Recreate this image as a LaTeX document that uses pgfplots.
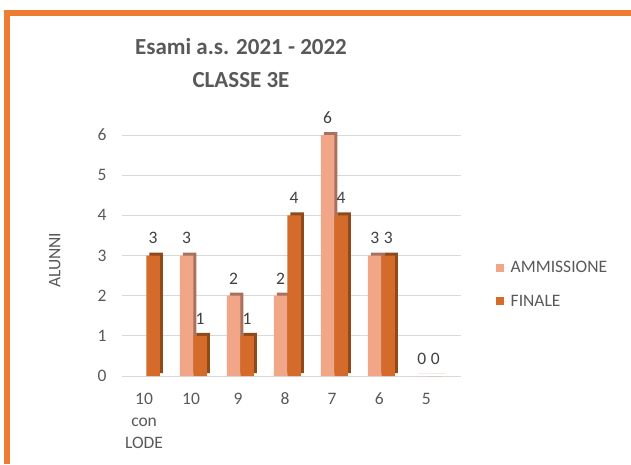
\documentclass[border=0pt]{standalone}
\usepackage{pgfplots}
\pgfplotsset{compat=1.18}
\usepackage{fontspec}
\setmainfont{Carlito}
\definecolor{amm}{HTML}{F1A688}
\definecolor{ammside}{HTML}{A8705D}
\definecolor{fin}{HTML}{D46B2A}
\definecolor{finside}{HTML}{8F4A1C}
\definecolor{frame}{HTML}{ED7D31}
\definecolor{txt}{HTML}{595959}
\definecolor{lbl}{HTML}{404040}
\definecolor{gridc}{HTML}{D9D9D9}

\begin{document}
\begin{tikzpicture}[x=1pt,y=1pt]
\useasboundingbox (0,0) rectangle (631,464);
\begin{axis}[
  at={(122pt,88pt)}, anchor=south west,
  scale only axis, width=339pt, height=241pt,
  ybar, bar width=13.5pt,
  xmin=-0.47, xmax=6.74, ymin=0, ymax=6,
  xtick={0,...,6},
  xticklabels={{10\\con\\LODE},10,9,8,7,6,5},
  ytick={0,...,6},
  axis line style={draw=none}, tick style={draw=none},
  ymajorgrids, grid style={gridc, line width=0.8pt},
  tick label style={font=\fontsize{17.5}{22}\selectfont, text=txt},
  xticklabel style={align=center, yshift=-9pt, anchor=north},
  yticklabel style={xshift=-12pt},
  /pgf/number format/assume math mode=true,
  clip=false,
  ylabel={ALUNNI},
  every axis y label/.style={at={(rel axis cs:-0.198,0.48)}, anchor=center, rotate=90,
    font=\fontsize{17.5}{21}\selectfont, text=txt},
  legend cell align=left,
  legend style={at={(1.093,0.38)}, anchor=west, draw=none, fill=none,
    font=\fontsize{17.5}{21}\selectfont, text=txt, row sep=17pt},
  legend image code/.code={\fill[#1] (0pt,-4pt) rectangle (8pt,4pt); \path (0pt,0pt) -- (13pt,0pt);},
  nodes near coords,
  every node near coord/.append style={font=\fontsize{17.5}{21}\selectfont, text=lbl, yshift=8pt},
]
% 3D side faces
\addplot[forget plot, fill=ammside, draw=none, bar shift=-1.5pt, yshift=3pt, nodes near coords=] coordinates {(1,3)(2,2)(3,2)(4,6)(5,3)(6,0)};
\addplot[fill=amm, draw=none, bar shift=-4.5pt] coordinates {(1,3)(2,2)(3,2)(4,6)(5,3)(6,0)};
\addplot[forget plot, fill=finside, draw=none, bar shift=12pt, yshift=3pt, nodes near coords=] coordinates {(0,3)(1,1)(2,1)(3,4)(4,4)(5,3)(6,0)};
\addplot[fill=fin, draw=none, bar shift=9pt] coordinates {(0,3)(1,1)(2,1)(3,4)(4,4)(5,3)(6,0)};
\legend{AMMISSIONE,FINALE}
\end{axis}
\node[font=\bfseries\fontsize{23}{28}\selectfont, text=txt] at (241,417) {Esami a.s. 2021 - 2022};
\node[font=\bfseries\fontsize{23}{28}\selectfont, text=txt] at (241,384) {CLASSE 3E};
\draw[frame, line width=6pt] (7,0) -- (7,451) -- (631,451);
\end{tikzpicture}
\end{document}
